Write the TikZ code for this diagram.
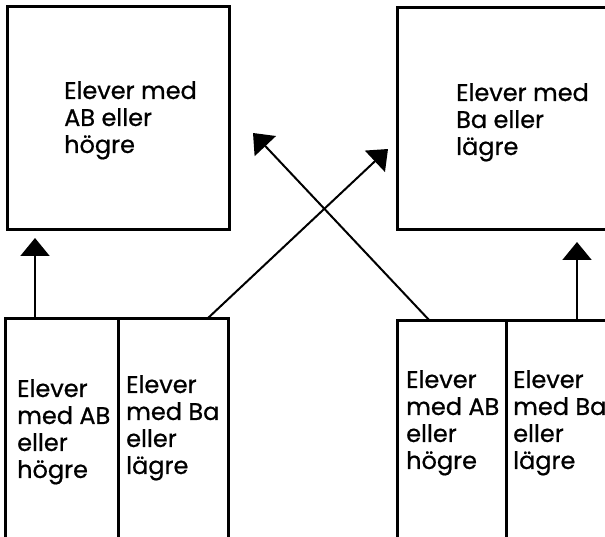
\documentclass[tikz,border=0pt]{standalone}
\usepackage{fontspec}
\setmainfont{Poppins}[FakeBold=0.7]
\usetikzlibrary{arrows.meta}

\begin{document}
\begin{tikzpicture}[
            x=1pt, y=-1pt,
            box/.style={draw, line width=3pt, inner sep=0pt, outer sep=0pt, anchor=north west},
            txt/.style={align=left, inner sep=0pt, anchor=north west, font=\fontsize{24}{27}\selectfont},
            arr/.style={line width=2pt, -{Triangle[length=18pt, width=29pt]}}
        ]

            \useasboundingbox (0, 0) rectangle (605, 537);
            \clip (0, 0) rectangle (605, 537);

            \node[box, minimum width=222pt, minimum height=223pt] (high) at (7, 7) {};
            \node[box, minimum width=222pt, minimum height=222pt] (low) at (397, 8) {};
            \node[box, minimum width=113pt, minimum height=240pt] (ablft) at (5, 319) {};
            \node[box, minimum width=110pt, minimum height=240pt] (balft) at (118, 319) {};
            \node[box, minimum width=109pt, minimum height=240pt] (abrgt) at (397, 321) {};
            \node[box, minimum width=112pt, minimum height=240pt] (bargt) at (506, 321) {};

            \node[txt] (hightext) at (64, 81) {Elever med\\AB eller\\högre};
            \node[txt] (lowtext) at (456, 83) {Elever med\\Ba eller\\lägre};
            \node[txt] (ablfttext) at (17, 379) {Elever\\med AB\\eller\\högre};
            \node[txt] (balfttext) at (126, 375) {Elever\\med Ba\\eller\\lägre};
            \node[txt] (abrgttext) at (406, 370) {Elever\\med AB\\eller\\högre};
            \node[txt] (bargttext) at (513, 370) {Elever\\med Ba\\eller\\lägre};

            \coordinate (hightip) at (35, 238);
            \coordinate (lowtip) at (577, 242);
            \coordinate (crossa) at (253, 133);
            \coordinate (crossb) at (388, 149);

            \draw[arr] ([xshift=30pt]ablft.north west) -- (hightip);
            \draw[arr] ([xshift=71pt]bargt.north west) -- (lowtip);
            \draw[arr] ([xshift=89pt]balft.north west) -- (crossb);
            \draw[arr] ([xshift=33pt]abrgt.north west) -- (crossa);
        \end{tikzpicture}
\end{document}
